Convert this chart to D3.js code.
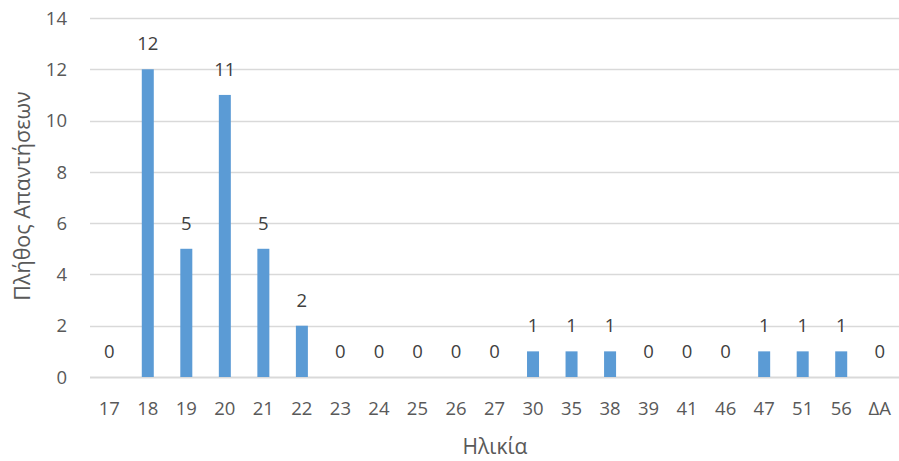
<!DOCTYPE html>
<html>
<head>
<meta charset="utf-8">
<script src="https://cdn.jsdelivr.net/npm/d3@7"></script>
<style>
  body { margin: 0; background: #fff; }
  text { font-family: "Open Sans", "Liberation Sans", sans-serif; }
</style>
</head>
<body>
<div id="chart"></div>
<script>
// data
var categories = ["17","18","19","20","21","22","23","24","25","26","27","30","35","38","39","41","46","47","51","56","ΔΑ"];
var counts = [0,12,5,11,5,2,0,0,0,0,0,1,1,1,0,0,0,1,1,1,0];
var yTicks = [0,2,4,6,8,10,12,14];

var width = 899, height = 461;
var plotLeft = 90, plotRight = 899, plotTop = 18, plotBottom = 377;

var svg = d3.select("#chart").append("svg")
    .attr("width", width)
    .attr("height", height);

var x = d3.scaleBand()
    .domain(categories)
    .range([plotLeft, plotRight])
    .paddingInner(0)
    .paddingOuter(0);

var y = d3.scaleLinear()
    .domain([0, 14])
    .range([plotBottom, plotTop]);

// gridlines
svg.selectAll("line.grid")
    .data(yTicks)
    .enter().append("line")
    .attr("class", "grid")
    .attr("x1", plotLeft)
    .attr("x2", plotRight)
    .attr("y1", function(d) { return Math.round(y(d)) + 0.5; })
    .attr("y2", function(d) { return Math.round(y(d)) + 0.5; })
    .style("stroke", "#d9d9d9")
    .style("stroke-width", function(d) { return d === 0 ? 2 : 1.3; });

// y tick labels
svg.selectAll("text.ytick")
    .data(yTicks)
    .enter().append("text")
    .attr("class", "ytick")
    .attr("x", 67)
    .attr("y", function(d) { return y(d); })
    .attr("dy", "0.36em")
    .attr("text-anchor", "end")
    .style("font-size", "18.5px")
    .style("fill", "#595959")
    .text(function(d) { return d; });

// bars
var barW = 12;
svg.selectAll("rect.bar")
    .data(counts)
    .enter().append("rect")
    .attr("class", "bar")
    .attr("x", function(d, i) { return x(categories[i]) + x.bandwidth() / 2 - barW / 2; })
    .attr("y", function(d) { return y(d); })
    .attr("width", barW)
    .attr("height", function(d) { return y(0) - y(d); })
    .style("fill", "#5b9bd5");

// data labels
svg.selectAll("text.lbl")
    .data(counts)
    .enter().append("text")
    .attr("class", "lbl")
    .attr("x", function(d, i) { return x(categories[i]) + x.bandwidth() / 2; })
    .attr("y", function(d) { return y(d) - 19; })
    .attr("text-anchor", "middle")
    .style("font-size", "18.5px")
    .style("fill", "#404040")
    .text(function(d) { return d; });

// x tick labels
svg.selectAll("text.xtick")
    .data(categories)
    .enter().append("text")
    .attr("class", "xtick")
    .attr("x", function(d) { return x(d) + x.bandwidth() / 2; })
    .attr("y", 415)
    .attr("text-anchor", "middle")
    .style("font-size", "18.5px")
    .style("fill", "#595959")
    .text(function(d) { return d; });

// axis titles
svg.append("text")
    .attr("x", 495)
    .attr("y", 454)
    .attr("text-anchor", "middle")
    .style("font-size", "21px")
    .style("fill", "#595959")
    .text("Ηλικία");

svg.append("text")
    .attr("transform", "translate(30,196) rotate(-90)")
    .attr("text-anchor", "middle")
    .style("font-size", "21.5px")
    .style("fill", "#595959")
    .text("Πλήθος Απαντήσεων");
</script>
</body>
</html>
